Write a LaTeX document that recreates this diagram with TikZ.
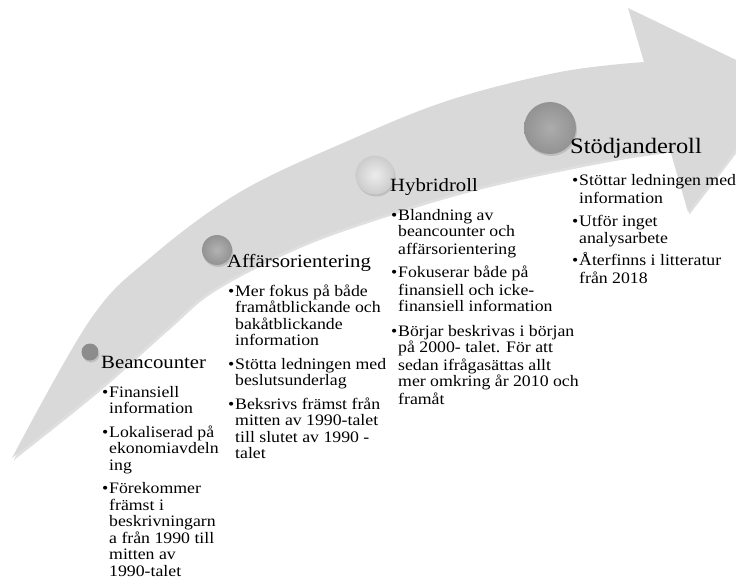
\documentclass[tikz,border=0pt]{standalone}
\usepackage{fontspec}
\newfontfamily\rollfont[FakeStretch=1.11]{Liberation Serif}
\usetikzlibrary{shadows}

\definecolor{bandgra}{HTML}{D9D9D9}
\newcommand\punkt{\makebox[8pt][l]{\hspace{1pt}\textbullet}}
\newcommand\fort{\hspace*{8pt}}

\begin{document}
\begin{tikzpicture}[x=1pt,y=-1pt,
    rubrik/.style={anchor=base west,inner sep=0pt,font=\rollfont\fontsize{18.7}{20}\selectfont},
    lista/.style={anchor=base west,inner sep=0pt,font=\rollfont\fontsize{16}{16.5}\selectfont},
    kula/.style={circle,inner sep=0pt,shade,drop shadow={shadow xshift=1pt,shadow yshift=-2pt,opacity=.3}}]
    \useasboundingbox (0,0) rectangle (736,588);
    \clip (0,0) rectangle (736,588);

    % pilen
    \fill[bandgra,drop shadow={shadow xshift=1.5pt,shadow yshift=-2.5pt,opacity=.25}]
        plot[smooth,tension=.6] coordinates {(12,458) (90,320) (150,258) (240,192) (350,140) (450,100) (560,72) (644,62)}
        -- (628,8) -- (786,84) -- (688,212) -- (670,150)
        -- plot[smooth,tension=.6] coordinates {(670,150) (600,161) (483,186) (390,213) (300,245) (215,288) (167,328) (97,390) (12,458)}
        -- cycle;

    % kulor
    \node[kula,minimum size=17pt,inner color=gray!90,outer color=gray!110!black] (k1) at (90,352) {};
    \node[kula,minimum size=30pt,inner color=gray!60,outer color=gray!85] (k2) at (217,250) {};
    \node[kula,minimum size=39pt,inner color=gray!15,outer color=gray!40] (k3) at (375,175) {};
    \node[kula,minimum size=52pt,inner color=gray!65,outer color=gray!85] (k4) at (550,128) {};

    % Beancounter
    \node[rubrik] (bean) at (101,368) {Beancounter};
    \node[lista] (beanlista) at (101,397) {\parbox[t]{130pt}{\punkt Finansiell\\\fort information\\[7pt]
        \punkt Lokaliserad på\\\fort ekonomiavdeln\\\fort ing\\[7pt]
        \punkt Förekommer\\\fort främst i\\\fort beskrivningarn\\\fort a från 1990 till\\\fort mitten av\\\fort 1990-talet}};

    % Affärsorientering
    \node[rubrik] (affar) at (227,267) {Affärsorientering};
    \node[lista] (affarlista) at (227,296) {\parbox[t]{170pt}{\punkt Mer fokus på både\\\fort framåtblickande och\\\fort bakåtblickande\\\fort information\\[7pt]
        \punkt Stötta ledningen med\\\fort beslutsunderlag\\[7pt]
        \punkt Beksrivs främst från\\\fort mitten av 1990-talet\\\fort till slutet av 1990 -\\\fort talet}};

    % Hybridroll
    \node[rubrik] (hybrid) at (390,192) {Hybridroll};
    \node[lista,font=\rollfont\fontsize{16}{17}\selectfont] (hybridlista) at (390,220) {\parbox[t]{190pt}{\punkt Blandning av\\\fort beancounter och\\\fort affärsorientering\\[7pt]
        \punkt Fokuserar både på\\\fort finansiell och icke-\\\fort finansiell information\\[7pt]
        \punkt Börjar beskrivas i början\\\fort på 2000- talet. För att\\\fort sedan ifrågasättas allt\\\fort mer omkring år 2010 och\\\fort framåt}};

    % Stödjanderoll
    \node[rubrik,font=\rollfont\fontsize{22}{24}\selectfont] (stod) at (570,154) {Stödjanderoll};
    \node[lista,font=\rollfont\fontsize{16}{17.5}\selectfont] (stodlista) at (571,186) {\parbox[t]{170pt}{\punkt Stöttar ledningen med\\\fort information\\[5pt]
        \punkt Utför inget\\\fort analysarbete\\[5pt]
        \punkt Återfinns i litteratur\\\fort från 2018}};
\end{tikzpicture}
\end{document}
